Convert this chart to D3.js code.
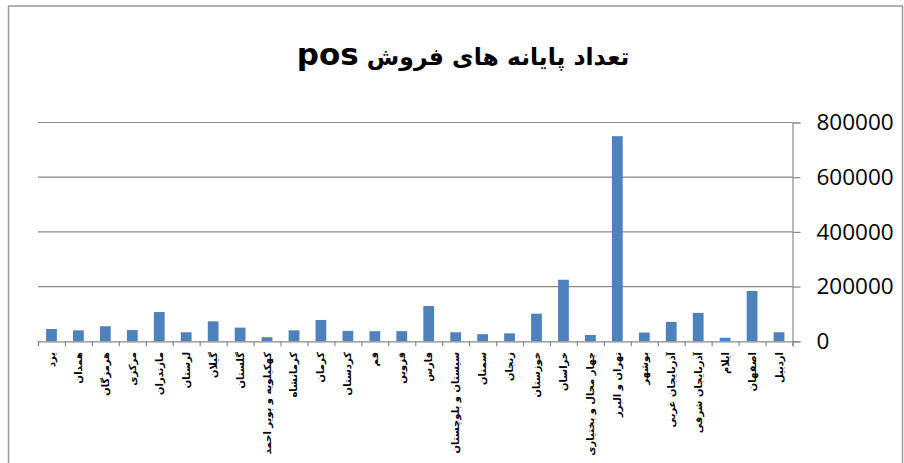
<!DOCTYPE html>
<html>
<head>
<meta charset="utf-8">
<script src="https://cdn.jsdelivr.net/npm/d3@7/dist/d3.min.js"></script>
<style>
  html, body { margin: 0; padding: 0; background: #fff; }
  svg { display: block; }
</style>
</head>
<body>
<svg id="chart" width="904" height="463"></svg>
<script>
const categories = ["یزد","همدان","هرمزگان","مرکزی","مازندران","لرستان","گیلان","گلستان","کهکیلویه و بویر احمد","کرمانشاه","کرمان","کردستان","قم","قزوین","فارس","سیستان و بلوچستان","سمنان","زنجان","خوزستان","خراسان","چهار محال و بختیاری","تهران و البرز","بوشهر","آذربایجان غربی","آذربایجان شرقی","ایلام","اصفهان","اردبیل"];
const values = [45000,40000,55000,41000,107000,33000,73000,50000,15000,40000,78000,38000,37000,37000,129000,33000,26000,29000,101000,225000,23000,750000,32000,71000,104000,13000,184000,33000];
const yTicks = [0,200000,400000,600000,800000];
const titleMain = "تعداد پایانه های فروش";
const titleSuffix = "pos";

const svg = d3.select("#chart");
const pLeft = 38, pRight = 792.5, pTop = 122.5, pBottom = 341.3;

svg.append("rect").attr("x",8.5).attr("y",6).attr("width",894).attr("height",480)
  .attr("fill","#fff").attr("stroke","#9a9a9a").attr("stroke-width",1.5);

const x = d3.scaleBand().domain(categories).range([pLeft,pRight]).paddingInner(0.6).paddingOuter(0.3);
const xc = d3.scaleBand().domain(categories).range([pLeft,pRight]).padding(0);
const xIdx = d3.scaleLinear().domain([0,categories.length]).range([pLeft,pRight]);
const y = d3.scaleLinear().domain([0,800000]).range([pBottom,pTop]);

// gridlines
svg.append("g").selectAll("line").data(yTicks.filter(d=>d>0)).join("line")
  .attr("x1",pLeft).attr("x2",pRight).attr("y1",d=>y(d)).attr("y2",d=>y(d))
  .attr("stroke","#8a8a8a").attr("stroke-width",1.2);

// bars
svg.append("g").selectAll("rect").data(values).join("rect")
  .attr("x",(d,i)=>x(categories[i])).attr("width",x.bandwidth())
  .attr("y",d=>y(d)).attr("height",d=>pBottom-y(d))
  .attr("fill","#4f81bd");

// right axis
const ya = svg.append("g").attr("transform",`translate(${pRight},0)`)
  .call(d3.axisRight(y).tickValues(yTicks).tickFormat(d3.format("d")).tickSize(8).tickPadding(16));
ya.select(".domain").attr("stroke","#8a8a8a").attr("stroke-width",1.2);
ya.selectAll(".tick line").attr("stroke","#8a8a8a").attr("stroke-width",1.2);
ya.selectAll("text").attr("font-family","'Open Sans', sans-serif").attr("font-size",22.5).attr("fill","#000");

// bottom axis
const xa = svg.append("g").attr("transform",`translate(0,${pBottom})`)
  .call(d3.axisBottom(xIdx).tickValues(d3.range(0,categories.length+1)).tickFormat("").tickSize(5));
xa.select(".domain").attr("stroke","#8a8a8a").attr("stroke-width",1.2);
xa.selectAll(".tick line").attr("stroke","#8a8a8a").attr("stroke-width",1.2);

// category labels
svg.append("g").selectAll("text").data(categories).join("text")
  .attr("transform",d=>`translate(${xc(d)+xc.bandwidth()/2},352) rotate(-90)`)
  .attr("text-anchor","end").attr("dy","0.35em")
  .attr("font-family","'DejaVu Sans', sans-serif").attr("font-weight","bold").attr("font-size",10)
  .attr("fill","#000").text(d=>d);

// title
const t = svg.append("text").attr("x",463).attr("y",65).attr("text-anchor","middle")
  .attr("direction","rtl")
  .attr("font-family","'DejaVu Sans', sans-serif").attr("font-weight","bold")
  .attr("fill","#000");
t.append("tspan").attr("font-size",23.5).text(titleMain + " ");
t.append("tspan").attr("font-size",31).text(titleSuffix);
</script>
</body>
</html>
